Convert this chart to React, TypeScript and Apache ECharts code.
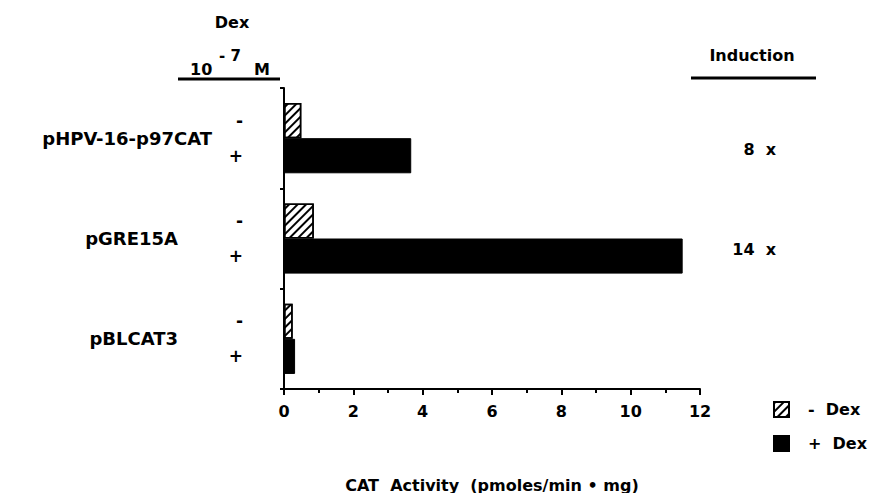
import React, { useEffect, useRef } from "react";
import * as echarts from "echarts";

const categories = ["pHPV-16-p97CAT", "pGRE15A", "pBLCAT3"];
const minusDex = [0.5, 0.86, 0.25];
const plusDex = [3.67, 11.5, 0.32];
const induction = ["8  x", "14  x", ""];
const seriesNames = ["-  Dex", "+  Dex"];
const xTicks = { min: 0, max: 12, interval: 2 };

const FONT = "DejaVu Sans";

export default function App() {
  const ref = useRef<HTMLDivElement>(null);
  useEffect(() => {
    if (!ref.current) return;
    const chart = echarts.init(ref.current, undefined, { renderer: "svg" });
    const txt = (size = 16) => ({
      fontFamily: FONT,
      fontWeight: "bold" as const,
      fontSize: size,
      color: "#000",
    });
    const hatch = {
      symbol: "rect",
      symbolSize: 1,
      dashArrayX: [1, 0],
      dashArrayY: [2, 4],
      rotation: -Math.PI / 4,
      color: "#000",
      backgroundColor: "#fff",
    };
    chart.setOption({
      animation: false,
      backgroundColor: "#fff",
      textStyle: { fontFamily: FONT },
      grid: { left: 284, right: 171, top: 88, bottom: 104, containLabel: false, outerBoundsMode: "none" },
      legend: {
        orient: "vertical",
        left: 768,
        top: 396,
        itemWidth: 15,
        itemHeight: 15,
        itemGap: 17,
        icon: "rect",
        data: seriesNames,
        textStyle: { ...txt(16), padding: [0, 0, 0, 14], lineHeight: 15 },
      },
      xAxis: {
        type: "value",
        min: xTicks.min,
        max: xTicks.max,
        interval: xTicks.interval,
        splitLine: { show: false },
        axisLine: { show: true, lineStyle: { color: "#000", width: 2 } },
        axisTick: { show: true, length: 6, lineStyle: { color: "#000", width: 2 } },
        minorTick: { show: true, splitNumber: 2, length: 4, lineStyle: { color: "#000", width: 2 } },
        axisLabel: { ...txt(16), margin: 14 },
        name: "CAT  Activity  (pmoles/min \u2022 mg)",
        nameLocation: "middle",
        nameGap: 88,
        nameTextStyle: { ...txt(16) },
      },
      yAxis: [
        {
          type: "category",
          inverse: true,
          data: categories,
          axisLine: { show: true, lineStyle: { color: "#000", width: 2 } },
          axisTick: { show: true, length: 4, lineStyle: { color: "#000", width: 2 } },
          axisLabel: {
            ...txt(18),
            align: "right",
            margin: 72,
            formatter: (v: string, i: number) => (i === 0 ? v : "{b|" + v + "}"),
            rich: { b: { ...txt(18), padding: [0, 34, 0, 0] } },
          },
        },
        {
          type: "category",
          inverse: true,
          position: "right",
          data: categories,
          axisLine: { show: false },
          axisTick: { show: false },
          axisLabel: {
            ...txt(16),
            align: "right",
            margin: 76,
            formatter: (_v: string, i: number) => (induction[i] ? "{c|" + induction[i] + "}" : ""),
            rich: { c: { ...txt(16), padding: [22, 0, 0, 0] } },
          },
        },
      ],
      series: [
        {
          name: seriesNames[0],
          type: "bar",
          data: minusDex,
          barCategoryGap: "30%",
          barGap: "0%",
          itemStyle: { color: "#fff", borderColor: "#000", borderWidth: 1.5, decal: hatch },
          label: { show: true, position: "left", distance: 41, formatter: "-", ...txt(17) },
        },
        {
          name: seriesNames[1],
          type: "bar",
          data: plusDex,
          barCategoryGap: "30%",
          barGap: "0%",
          itemStyle: { color: "#000", borderColor: "#000", borderWidth: 1 },
          label: { show: true, position: "left", distance: 41, formatter: "+", ...txt(17) },
        },
      ],
      graphic: [
        { type: "text", x: 232, y: 22, style: { text: "Dex", ...txt(16), fill: "#000", align: "center", verticalAlign: "middle" } },
        { type: "text", x: 190, y: 69, style: { text: "10", ...txt(16), fill: "#000", align: "left", verticalAlign: "middle" } },
        { type: "text", x: 219, y: 56, style: { text: "- 7", ...txt(15), fill: "#000", align: "left", verticalAlign: "middle" } },
        { type: "text", x: 254, y: 69, style: { text: "M", ...txt(16), fill: "#000", align: "left", verticalAlign: "middle" } },
        { type: "line", shape: { x1: 178, y1: 79, x2: 280, y2: 79 }, style: { stroke: "#000", lineWidth: 3 } },
        { type: "text", x: 752, y: 55, style: { text: "Induction", ...txt(16), fill: "#000", align: "center", verticalAlign: "middle" } },
        { type: "line", shape: { x1: 691, y1: 78, x2: 816, y2: 78 }, style: { stroke: "#000", lineWidth: 3 } },
      ],
    });
    return () => chart.dispose();
  }, []);
  return <div ref={ref} style={{ width: 871, height: 493, position: "absolute", left: 0, top: 0 }} />;
}
